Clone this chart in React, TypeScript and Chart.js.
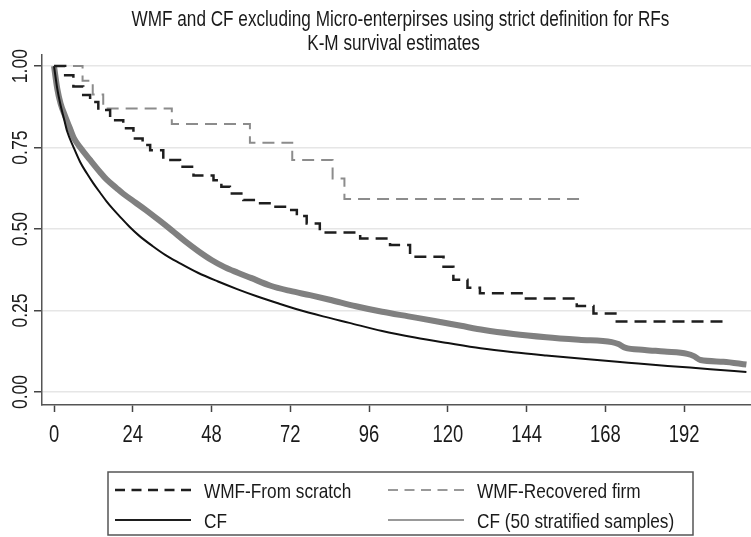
import React, { useEffect, useRef } from "react";
import { Chart, registerables } from "chart.js";

Chart.register(...registerables);

const titleLines = [
  "WMF and CF excluding Micro-enterpirses using strict definition for RFs",
  "K-M survival estimates",
];

const xTicks = [0, 24, 48, 72, 96, 120, 144, 168, 192];
const yTicks = [0, 0.25, 0.5, 0.75, 1];

const seriesLabels = [
  "WMF-From scratch",
  "WMF-Recovered firm",
  "CF",
  "CF (50 stratified samples)",
];

const scratchMonths = [0, 3.4, 5.9, 8.9, 11, 13.5, 17.1, 21.1, 24.2, 27, 29.3, 33.3, 38.4, 42.5, 48.6, 51, 53.6, 57.7, 62.8, 67, 70.9, 74, 77, 81, 93.3, 102.4, 108.5, 118.7, 121.7, 126, 129.8, 142.5, 159.3, 164.4, 171.5, 203.9];
const scratchSurv = [1, 0.972, 0.937, 0.911, 0.89, 0.865, 0.834, 0.809, 0.778, 0.758, 0.742, 0.712, 0.691, 0.664, 0.65, 0.63, 0.609, 0.589, 0.579, 0.568, 0.558, 0.54, 0.517, 0.489, 0.471, 0.451, 0.415, 0.384, 0.344, 0.32, 0.303, 0.287, 0.264, 0.241, 0.216, 0.216];

const recoveredMonths = [0, 8.7, 11.8, 15, 35.9, 59.7, 72.6, 84.9, 88.5, 161.2];
const recoveredSurv = [1, 0.955, 0.913, 0.87, 0.822, 0.765, 0.712, 0.655, 0.592, 0.592];

const cfMonths = [0, 1, 2, 3, 4, 6, 8, 10, 12, 14, 16, 18, 20, 23, 26, 30, 34, 38, 44, 50, 56, 62, 68, 74, 82, 90, 100, 110, 120, 130, 140, 150, 162, 175, 187, 200, 211];
const cfSurv = [1, 0.93, 0.88, 0.84, 0.80, 0.75, 0.705, 0.671, 0.64, 0.612, 0.585, 0.561, 0.539, 0.507, 0.479, 0.448, 0.42, 0.397, 0.365, 0.339, 0.315, 0.293, 0.273, 0.254, 0.232, 0.212, 0.187, 0.167, 0.15, 0.134, 0.122, 0.112, 0.101, 0.09, 0.08, 0.07, 0.061];

const cf50Months = [0, 1, 2, 3.4, 5, 6, 8, 11, 14, 16, 19, 21, 25, 28, 32, 36, 40, 44, 48, 52, 56, 60, 66, 72, 78, 84, 92, 100, 108, 116, 124, 131, 140, 150, 160, 170, 172, 174, 180, 186, 193, 195, 197, 204, 211];
const cf50Surv = [1, 0.93, 0.885, 0.846, 0.805, 0.78, 0.75, 0.712, 0.675, 0.652, 0.626, 0.609, 0.58, 0.558, 0.527, 0.495, 0.462, 0.432, 0.405, 0.383, 0.366, 0.35, 0.326, 0.31, 0.297, 0.283, 0.263, 0.246, 0.232, 0.218, 0.203, 0.19, 0.178, 0.168, 0.16, 0.153, 0.147, 0.136, 0.129, 0.124, 0.117, 0.11, 0.098, 0.093, 0.084];

const FONT = "'Liberation Sans', Arial, sans-serif";
const TEXT_COLOR = "#1a1a1a";

const toPoints = (xs: number[], ys: number[]) => xs.map((x, i) => ({ x, y: ys[i] }));

const legendStyles = [
  { color: "#1e1e1e", width: 2.5, dash: [10, 6.5] },
  { color: "#999999", width: 2, dash: [10, 6.5] },
  { color: "#1e1e1e", width: 2, dash: [] as number[] },
  { color: "#999999", width: 2, dash: [] as number[] },
];

function narrowText(
  ctx: CanvasRenderingContext2D,
  text: string,
  x: number,
  y: number,
  align: CanvasTextAlign,
  size: number,
  squeeze: number,
  rotate = false
) {
  ctx.save();
  ctx.font = `${size}px ${FONT}`;
  ctx.textBaseline = "alphabetic";
  ctx.translate(x, y);
  if (rotate) ctx.rotate(-Math.PI / 2);
  ctx.scale(squeeze, 1);
  ctx.textAlign = align;
  ctx.fillText(text, 0, 0);
  ctx.restore();
}

const customPlugin = {
  id: "stataExtras",
  afterDraw(chart: any) {
    const ctx = chart.ctx as CanvasRenderingContext2D;
    const ca = chart.chartArea;
    const yScale = chart.scales.y;
    const xScale = chart.scales.x;
    ctx.save();
    ctx.fillStyle = TEXT_COLOR;

    // title
    const cx = (ca.left + ca.right) / 2;
    narrowText(ctx, titleLines[0], cx + 4, 25.5, "center", 22, 0.78);
    narrowText(ctx, titleLines[1], cx - 3, 50, "center", 22, 0.78);

    // y tick labels, rotated
    yScale.ticks.forEach((t: any) => {
      const py = yScale.getPixelForValue(t.value);
      narrowText(ctx, t.value.toFixed(2), ca.left - 15, py, "center", 22, 0.8, true);
    });

    // x tick labels
    xScale.ticks.forEach((t: any) => {
      const px = xScale.getPixelForValue(t.value);
      narrowText(ctx, String(t.value), px, ca.bottom + 37, "center", 23, 0.8);
    });

    // legend box
    const boxLeft = ca.left + 66;
    const boxTop = ca.bottom + 67;
    const boxW = 585;
    const boxH = 63;
    ctx.strokeStyle = "#555";
    ctx.lineWidth = 1.5;
    ctx.strokeRect(boxLeft, boxTop, boxW, boxH);
    const cols = [boxLeft + 7, boxLeft + 280];
    const rows = [boxTop + 18, boxTop + 48];
    chart.data.datasets.forEach((ds: any, i: number) => {
      const lx = cols[i % 2];
      const ly = rows[Math.floor(i / 2)];
      const st = legendStyles[i];
      ctx.beginPath();
      ctx.strokeStyle = st.color;
      ctx.lineWidth = st.width;
      ctx.setLineDash(st.dash);
      ctx.moveTo(lx, ly);
      ctx.lineTo(lx + 76, ly);
      ctx.stroke();
      ctx.setLineDash([]);
      ctx.fillStyle = TEXT_COLOR;
      narrowText(ctx, ds.label, lx + 89, ly + 7.5, "left", 21, 0.82);
    });
    ctx.restore();
  },
};

export default function App() {
  const ref = useRef<HTMLCanvasElement | null>(null);
  useEffect(() => {
    if (!ref.current) return;
    const chart = new Chart(ref.current, {
      type: "line",
      data: {
        datasets: [
          {
            label: seriesLabels[0],
            data: toPoints(scratchMonths, scratchSurv),
            borderColor: "#1e1e1e",
            borderWidth: 2.5,
            borderDash: [12, 7],
            stepped: "before",
            pointRadius: 0,
            fill: false,
          },
          {
            label: seriesLabels[1],
            data: toPoints(recoveredMonths, recoveredSurv),
            borderColor: "#8c8c8c",
            borderWidth: 2,
            borderDash: [12, 7],
            stepped: "before",
            pointRadius: 0,
            fill: false,
          },
          {
            label: seriesLabels[2],
            data: toPoints(cfMonths, cfSurv),
            borderColor: "#111",
            borderWidth: 2,
            cubicInterpolationMode: "monotone",
            pointRadius: 0,
            fill: false,
          },
          {
            label: seriesLabels[3],
            data: toPoints(cf50Months, cf50Surv),
            borderColor: "#808080",
            borderWidth: 6,
            cubicInterpolationMode: "monotone",
            pointRadius: 0,
            fill: false,
          },
        ],
      } as any,
      options: {
        animation: false,
        responsive: false,
        devicePixelRatio: 1,
        layout: { padding: { left: 0, right: 0, top: 55, bottom: 82 } },
        plugins: {
          legend: { display: false },
          tooltip: { enabled: false },
          title: { display: false },
        },
        scales: {
          x: {
            type: "linear",
            min: -3.66,
            max: 212.4,
            afterBuildTicks: (s: any) => {
              s.ticks = xTicks.map((v) => ({ value: v }));
            },
            afterFit: (s: any) => {
              s.height = 50;
            },
            grid: { drawOnChartArea: false, drawTicks: true, tickLength: 7, tickColor: "#444", tickWidth: 1.5 },
            border: { display: true, color: "#555", width: 1.5 },
            ticks: { display: false },
          },
          y: {
            type: "linear",
            min: -0.04,
            max: 1.034,
            afterBuildTicks: (s: any) => {
              s.ticks = yTicks.map((v) => ({ value: v }));
            },
            afterFit: (s: any) => {
              s.width = 42;
            },
            grid: { color: "#e6e6e6", lineWidth: 1.5, drawTicks: true, tickLength: 8, tickColor: "#444", tickWidth: 1.5 },
            border: { display: true, color: "#555", width: 1.5 },
            ticks: { display: false },
          },
        },
      } as any,
      plugins: [customPlugin],
    });
    return () => chart.destroy();
  }, []);
  return (
    <div style={{ position: "fixed", left: 0, top: 0, width: 751, height: 537, background: "#fff" }}>
      <canvas ref={ref} width={751} height={537} style={{ width: 751, height: 537, display: "block" }} />
    </div>
  );
}
